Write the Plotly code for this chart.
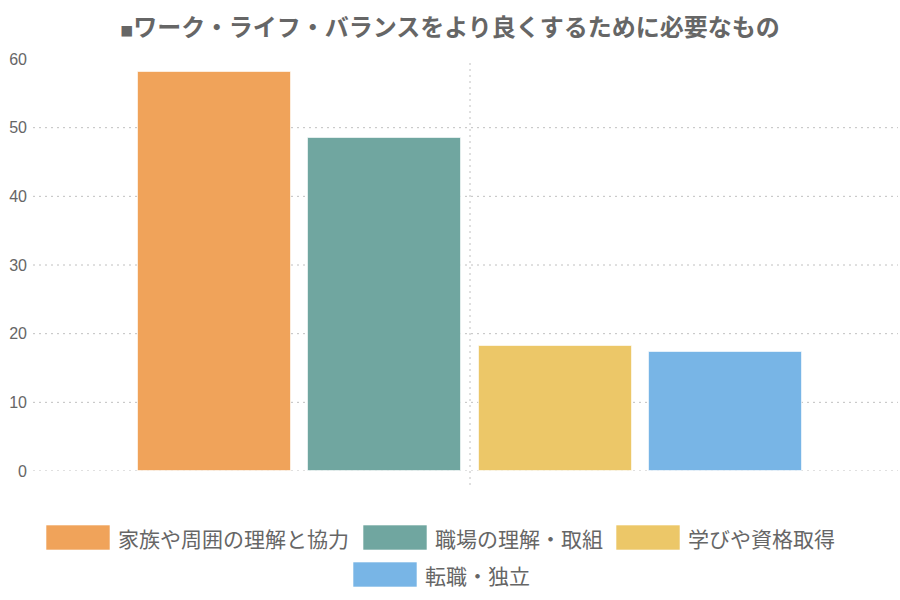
import plotly.graph_objects as go

# data
categories = ["家族や周囲の理解と協力", "職場の理解・取組", "学びや資格取得", "転職・独立"]
values = [58.1, 48.5, 18.2, 17.3]
colors = ["#f0a35a", "#70a6a0", "#ecc768", "#78b5e6"]
y_ticks = [0, 10, 20, 30, 40, 50, 60]
title_text = "ワーク・ライフ・バランスをより良くするために必要なもの"

FONT = "Noto Sans CJK JP, Noto Sans, sans-serif"
GREY = "#666666"

W, H = 900, 600
L, R, T, B = 33, 2, 59, 129  # plot area margins in px
PW, PH = W - L - R, H - T - B


def px_x(p):
    return (p - L) / PW


def px_y(p):
    return (H - B - p) / PH


fig = go.Figure()
for i, (name, val, col) in enumerate(zip(categories, values, colors)):
    fig.add_trace(go.Bar(
        x=[i], y=[val], name=name, width=0.9,
        marker=dict(color=col, line=dict(color="rgba(255,255,255,0.6)", width=1)),
        showlegend=False,
    ))

shapes = []
# dotted horizontal grid lines
for v in y_ticks[:-1]:
    shapes.append(dict(type="line", xref="paper", yref="y", x0=0, x1=1, y0=v, y1=v,
                       line=dict(color="#c0c0c0", width=1, dash="2px,4px"), layer="below"))
# vertical dotted line at the category centre
shapes.append(dict(type="line", xref="x", yref="paper", x0=1.5, x1=1.5, y0=px_y(485), y1=1,
                   line=dict(color="#c0c0c0", width=1, dash="2px,4px"), layer="below"))

# legend, drawn by hand to get the large swatches
legend_pos = [(46, 525), (363, 525), (616, 525), (353, 562)]
annotations = []
for (bx, by), name, col in zip(legend_pos, categories, colors):
    shapes.append(dict(type="rect", xref="paper", yref="paper",
                       x0=px_x(bx), x1=px_x(bx + 64), y0=px_y(by), y1=px_y(by + 25),
                       fillcolor=col, line=dict(color="rgba(255,255,255,0.6)", width=1)))
    annotations.append(dict(xref="paper", yref="paper", x=px_x(bx + 70), y=px_y(by + 13),
                            xanchor="left", yanchor="middle", text=name, showarrow=False,
                            font=dict(family=FONT, size=21, color=GREY)))

# bar centres at 214.5 + 170.3*i px
step = 170.3
x_lo = -(214.5 - L) / step
x_hi = 3 + (W - R - 725.5) / step

fig.update_layout(
    width=W, height=H,
    margin=dict(l=L, r=R, t=T, b=B),
    plot_bgcolor="white", paper_bgcolor="white",
    title=dict(text="<b><span style='font-size:13px'>■</span>" + title_text + "</b>",
               x=0.5, xanchor="center", y=1 - 28 / H, yanchor="middle",
               font=dict(family=FONT, size=24, color=GREY)),
    xaxis=dict(range=[x_lo, x_hi], showgrid=False, zeroline=False,
               showticklabels=False, showline=False, fixedrange=True),
    yaxis=dict(range=[0, 60], tickvals=y_ticks, showgrid=False, zeroline=False,
               showline=False, ticks="", ticklabelstandoff=5,
               tickfont=dict(family="Liberation Sans, Arial, sans-serif", size=16, color=GREY)),
    shapes=shapes,
    annotations=annotations,
    bargap=0,
)

fig.write_html("out.html", config={"displayModeBar": False},
               post_script="document.body.style.margin='0px';")
